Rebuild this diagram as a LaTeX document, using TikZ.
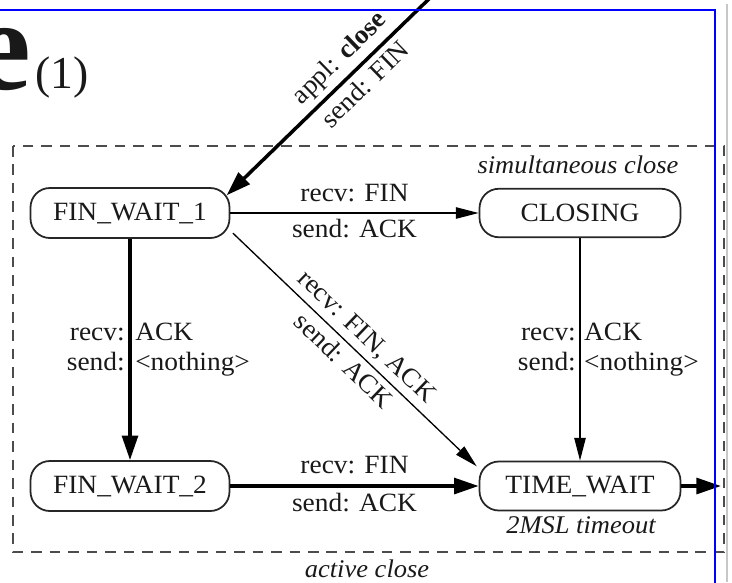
\documentclass[tikz,border=0pt]{standalone}
\usepackage{fontspec}
\setmainfont{Liberation Serif}
\newfontfamily\diagfont{Liberation Serif}[FakeStretch=1.04]
\usetikzlibrary{arrows.meta}
\begin{document}
\begin{tikzpicture}[x=0.02cm,y=-0.02cm,
  every node/.style={text=black!90},
  state/.style={draw=black!85, line width=1pt, rounded corners=11pt,
    minimum width=3.98cm, minimum height=1cm, inner sep=0pt,
    font=\diagfont\fontsize{15}{17}\selectfont},
  thinarrow/.style={line width=0.75pt, -{Triangle[length=13pt,width=6.5pt]}},
  thickarrow/.style={line width=2pt, -{Triangle[length=14pt,width=9pt]}},
  lab/.style={inner sep=2pt, font=\diagfont\fontsize{15}{17}\selectfont},
  note/.style={inner sep=0pt, font=\diagfont\fontsize{14.5}{17}\selectfont\itshape},
]
\useasboundingbox (0,0) rectangle (732,582);

% partial slide title
\node[anchor=base east, inner sep=0pt, font=\bfseries\fontsize{74}{74}\selectfont] (bige) at (32,89) {e};
\node[anchor=base west, inner sep=0pt, font=\fontsize{26}{26}\selectfont] (num) at (35,88) {(1)};

% active-close region
\draw[black!70, line width=0.9pt, dash pattern=on 6pt off 4.5pt] (13,146) rectangle (724,552);

% states
\node[state] (fw1) at (130,213) {FIN\_WAIT\_1};
\node[state, minimum width=4.02cm, minimum height=0.97cm] (cl) at (580,213) {CLOSING};
\node[state] (fw2) at (130,486) {FIN\_WAIT\_2};
\node[state, minimum width=4.02cm, minimum height=0.98cm] (tw) at (580,486) {TIME\_WAIT};

% annotations
\node[note] (sim) at (578,165) {simultaneous close};
\node[note] (msl) at (581,525) {2MSL timeout};
\node[note] (act) at (367,569) {active close};

% transitions
\coordinate (appl) at (432,-4);
\draw[thickarrow, shorten >=-3pt] (appl) --
  node[lab, pos=0.39, sloped, above=1pt] {appl: \textbf{close}}
  node[lab, pos=0.39, sloped, below=1pt] {send: FIN} (fw1.12);

\draw[thinarrow] (fw1) --
  node[lab, above=4pt] {recv: FIN}
  node[lab, below=1pt] {send: ACK} (cl);

\draw[thickarrow] (fw1) --
  node[lab, left, align=right] {recv:\\send:}
  node[lab, right, align=left] {ACK\\<nothing>} (fw2);

\draw[thinarrow] (cl) --
  node[lab, left, align=right] {recv:\\send:}
  node[lab, right, align=left] {ACK\\<nothing>} (tw);

\draw[thinarrow, shorten <=2pt, shorten >=1.5pt] (fw1.-10) --
  node[lab, sloped, above=1pt] {recv: FIN, ACK}
  node[lab, sloped, below=1pt] {send: ACK} (tw.170);

\draw[thickarrow] (fw2) --
  node[lab, above=4pt] {recv: FIN}
  node[lab, below=1pt] {send: ACK} (tw);

\coordinate (exit) at (721,486);
\draw[thickarrow] (tw) -- (exit);

% slide frame
\draw[black!22, line width=1.3pt] (727,4) -- (727,582);
\draw[blue, line width=1.2pt, line join=miter] (-2,10) -- (715,10) -- (715,584);
\end{tikzpicture}
\end{document}
